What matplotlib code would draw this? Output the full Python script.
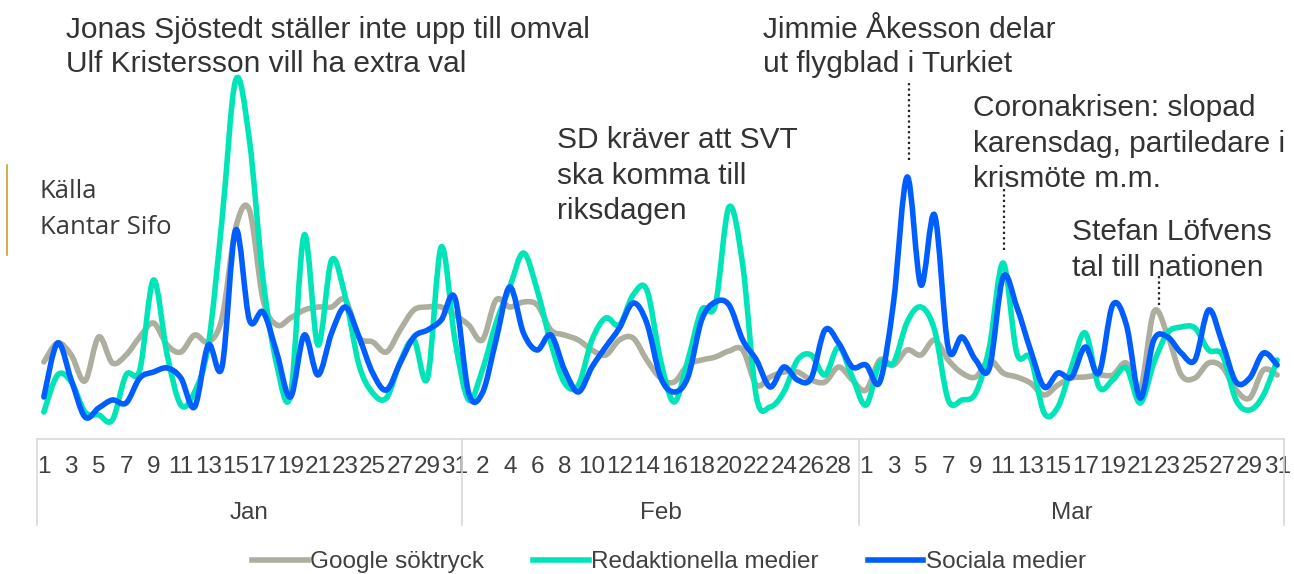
import numpy as np
import matplotlib
matplotlib.use("Agg")
import matplotlib.pyplot as plt
from matplotlib.path import Path
from matplotlib.patches import PathPatch
from matplotlib.lines import Line2D

# daily index values, Jan 1 - Mar 31 2020 (91 days)
months = ["Jan", "Feb", "Mar"]
month_days = [31, 29, 31]

google = [78, 97, 85, 59, 103, 77, 85, 103, 117, 95,
          88, 105, 98, 122, 212, 230, 140, 115, 122, 130,
          133, 133, 140, 103, 98, 88, 110, 130, 133, 133,
          125, 115, 100, 140, 133, 138, 135, 110, 105, 100,
          90, 85, 100, 102, 80, 62, 58, 75, 80, 83,
          89, 90, 55, 63, 68, 68, 60, 58, 73, 60,
          50, 80, 75, 90, 85, 100, 80, 67, 63, 80,
          67, 63, 57, 45, 55, 62, 63, 65, 65, 77,
          50, 128, 105, 65, 62, 77, 73, 50, 42, 70,
          65]

redaktionella = [28, 65, 58, 28, 25, 20, 65, 70, 160, 85,
                 35, 48, 95, 220, 360, 300, 160, 75, 45, 205,
                 95, 180, 143, 75, 47, 42, 78, 100, 62, 193,
                 100, 40, 70, 117, 153, 187, 150, 97, 57, 55,
                 100, 122, 115, 145, 150, 80, 38, 80, 130, 135,
                 233, 175, 43, 33, 48, 80, 85, 65, 93, 63,
                 35, 77, 77, 118, 133, 110, 40, 40, 47, 93,
                 177, 87, 82, 27, 33, 73, 107, 53, 60, 72,
                 37, 77, 107, 113, 112, 90, 85, 40, 30, 45,
                 80]

sociala = [43, 97, 60, 23, 32, 40, 37, 62, 68, 72,
           62, 33, 95, 73, 210, 120, 128, 87, 43, 105,
           65, 107, 133, 103, 67, 50, 77, 103, 110, 120,
           142, 47, 47, 100, 153, 107, 90, 105, 70, 48,
           73, 93, 112, 137, 117, 63, 48, 63, 120, 138,
           135, 100, 80, 53, 73, 60, 62, 110, 97, 73,
           75, 58, 137, 263, 155, 225, 92, 103, 80, 72,
           163, 133, 90, 53, 67, 63, 93, 67, 135, 115,
           42, 100, 103, 87, 80, 130, 97, 58, 62, 87,
           75]

series = [("Google söktryck", google, "#aeae9f"),
          ("Redaktionella medier", redaktionella, "#00e5b8"),
          ("Sociala medier", sociala, "#005eff")]

days = [d for n in month_days for d in range(1, n + 1)]
x = np.arange(len(days))

W, H = 1294, 574
TXT = "#333333"
FONT = "Liberation Sans"
FS = 17.5


def fx(px):
    return px / W


def fy(py):
    return 1 - py / H


def smooth_path(xs, ys):
    # excel style smoothed line: catmull-rom segments as cubic beziers
    pts = np.column_stack([xs, ys]).astype(float)
    p = np.vstack([pts[0], pts, pts[-1]])
    verts = [pts[0]]
    codes = [Path.MOVETO]
    for i in range(len(pts) - 1):
        p0, p1, p2, p3 = p[i], p[i + 1], p[i + 2], p[i + 3]
        verts += [p1 + (p2 - p0) / 6, p2 - (p3 - p1) / 6, p2]
        codes += [Path.CURVE4] * 3
    return Path(verts, codes)


fig = plt.figure(figsize=(W / 100, H / 100), dpi=100)
ax = fig.add_axes([fx(37), fy(439), fx(1247), 429 / H])
ax.set_xlim(-0.5, len(days) - 0.5)
ax.set_ylim(1, 430)

for name, vals, col in series:
    ax.add_patch(PathPatch(smooth_path(x, vals), fill=False, edgecolor=col,
                           lw=4.0, capstyle="round", joinstyle="round"))

for s in ax.spines.values():
    s.set_visible(False)
ax.set_yticks([])
ax.set_xticks(x[::2])
ax.set_xticklabels([str(d) for d in days[::2]], fontsize=FS,
                   family=FONT, color="#404040")
ax.tick_params(axis="x", length=0, pad=12)

# category box below the plot
tr = ax.get_xaxis_transform()
bounds = np.cumsum([0] + month_days) - 0.5
ax.plot([bounds[0], bounds[-1]], [0, 0], color="#d9d9d9", lw=1.2,
        transform=tr, clip_on=False)
for b in bounds:
    ax.plot([b, b], [0, -0.2], color="#d9d9d9", lw=1.2,
            transform=tr, clip_on=False)
for m, a, b in zip(months, bounds[:-1], bounds[1:]):
    ax.text((a + b) / 2, -0.172, m, transform=tr, ha="center", va="center",
            fontsize=FS, family=FONT, color="#404040")

# annotations
def note(px, py, lines, size=21.5, step=35.5, family=FONT, color=TXT):
    for k, line in enumerate(lines):
        fig.text(fx(px), fy(py + k * step), line, fontsize=size,
                 family=family, color=color, va="baseline", ha="left")


note(66, 38, ["Jonas Sjöstedt ställer inte upp till omval",
              "Ulf Kristersson vill ha extra val"], step=34)
note(763, 38, ["Jimmie Åkesson delar", "ut flygblad i Turkiet"], step=34)
note(557, 148, ["SD kräver att SVT", "ska komma till", "riksdagen"])
note(973, 116, ["Coronakrisen: slopad", "karensdag, partiledare i",
                "krismöte m.m."])
note(1072, 240, ["Stefan Löfvens", "tal till nationen"])
note(40, 198, ["Källa", "Kantar Sifo"], size=18.5, step=36,
     family="Open Sans", color="#3a3a3a")

for xi, y0, y1 in [(63.1, 280, 360), (70.1, 190, 252), (81.4, 135, 165)]:
    ax.plot([xi, xi], [y0, y1], color="#222222", lw=1.6, ls=(0, (1, 1.4)),
            clip_on=False)

fig.add_artist(Line2D([fx(7), fx(7)], [fy(165), fy(255)],
                      color="#c9a227", lw=1.2))

handles = [Line2D([], [], color=c, lw=4.0) for _, _, c in series]
fig.legend(handles, [n for n, _, _ in series], loc="center",
           bbox_to_anchor=(fx(669), fy(562)), ncol=3, frameon=False,
           prop={"family": FONT, "size": FS}, labelcolor="#404040",
           handlelength=2.3, handletextpad=0.1, columnspacing=2.0)

fig.savefig("out.png", dpi=100)
